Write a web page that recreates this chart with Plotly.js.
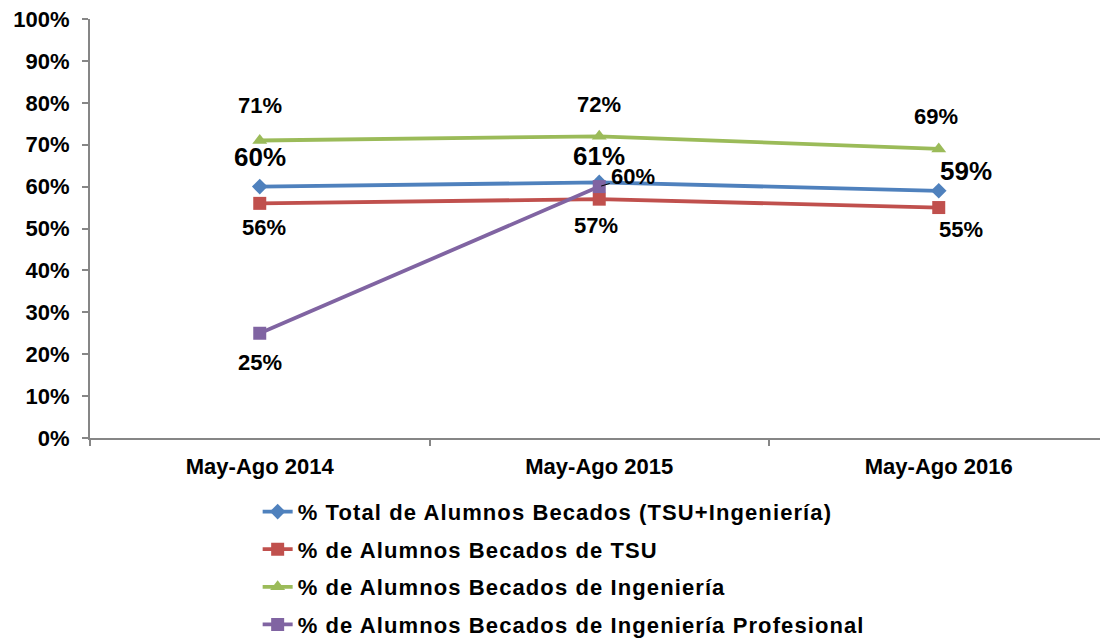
<!DOCTYPE html>
<html>
<head>
<meta charset="utf-8">
<script src="https://cdn.plot.ly/plotly-3.0.1.min.js"></script>
<style>
html,body{margin:0;padding:0;background:#fff;}
#chart{width:1100px;height:643px;}
.legendtext{letter-spacing:1.1px;}
</style>
</head>
<body>
<div id="chart"></div>
<script>
const categories = ["May-Ago 2014", "May-Ago 2015", "May-Ago 2016"];
const seriesNames = [
  "% Total de Alumnos Becados (TSU+Ingeniería)",
  "% de Alumnos Becados de TSU",
  "% de Alumnos Becados de Ingeniería",
  "% de Alumnos Becados de Ingeniería Profesional"
];
const totalBecados = [0.60, 0.61, 0.59];
const tsuBecados = [0.56, 0.57, 0.55];
const ingBecados = [0.71, 0.72, 0.69];
const profBecados = [0.25, 0.60];
const yTicks = [0,0.1,0.2,0.3,0.4,0.5,0.6,0.7,0.8,0.9,1.0];
const yTickLabels = ["0%","10%","20%","30%","40%","50%","60%","70%","80%","90%","100%"];

const colors = ["#4F81BD", "#C0504D", "#9BBB59", "#8064A2"];
const symbols = ["diamond", "square", "triangle-up", "square"];
const sizes = [12, 13, 13, 13];
const allData = [totalBecados, tsuBecados, ingBecados, profBecados];

const FONT = "Liberation Sans, Arial, sans-serif";

const traces = allData.map((vals, i) => ({
  type: "scatter",
  mode: "lines+markers",
  name: seriesNames[i],
  x: categories.slice(0, vals.length),
  y: vals,
  line: {color: colors[i], width: 3.8},
  marker: {color: colors[i], symbol: symbols[i], size: sizes[i]},
  legendgroup: "g" + i,
  hoverinfo: "skip"
}));

// label offsets (pixels) per series / point
const offsets = [
  [[0, 30], [0, 26], [27, 20]],
  [[4, -24], [-3, -26], [22, -22]],
  [[0, 35], [0, 32], [-3, 32]],
  [[0, -29], [34, 10]]
];
const labelSizes = [26, 22, 22, 22];

const annotations = [];
allData.forEach((vals, i) => {
  vals.forEach((v, j) => {
    const ann = {
      x: categories[j], y: v, xref: "x", yref: "y",
      text: Math.round(v * 100) + "%",
      showarrow: false,
      xshift: offsets[i][j][0], yshift: offsets[i][j][1],
      font: {family: FONT, size: labelSizes[i], color: "#000", weight: "bold"}
    };
    if (i === 3 && j === 1) {
      ann.xshift = 0; ann.yshift = 0;
      ann.showarrow = true;
      ann.ax = 34; ann.ay = -10;
      ann.arrowhead = 0; ann.arrowwidth = 1; ann.arrowcolor = "#000";
      ann.standoff = 2;
    }
    annotations.push(ann);
  });
});

const layout = {
  width: 1100, height: 643,
  margin: {l: 90, r: 0, t: 19, b: 205, autoexpand: false},
  paper_bgcolor: "#fff", plot_bgcolor: "#fff",
  showlegend: true,
  legend: {
    x: 0.166, y: -0.126, xanchor: "left", yanchor: "top",
    orientation: "v",
    font: {family: FONT, size: 22, color: "#000", weight: "bold"},
    tracegroupgap: 6,
    bgcolor: "rgba(0,0,0,0)"
  },
  xaxis: {
    type: "category",
    range: [-0.5, 2.475],
    showgrid: false, zeroline: false,
    showline: true, linecolor: "#868686", linewidth: 2,
    ticks: "outside", ticklen: 6, tickcolor: "#868686", tickwidth: 2,
    tickson: "boundaries",
    ticklabelstandoff: 8,
    tickfont: {family: FONT, size: 22, color: "#000", weight: "bold"},
    fixedrange: true
  },
  yaxis: {
    range: [0, 1],
    tickvals: yTicks, ticktext: yTickLabels,
    showgrid: false, zeroline: false,
    showline: true, linecolor: "#868686", linewidth: 2,
    ticks: "outside", ticklen: 6, tickcolor: "#868686", tickwidth: 2,
    ticklabelstandoff: 8,
    tickfont: {family: FONT, size: 22, color: "#000", weight: "bold"},
    fixedrange: true
  },
  annotations: annotations
};

Plotly.newPlot("chart", traces, layout, {displayModeBar: false, staticPlot: true});
</script>
</body>
</html>
